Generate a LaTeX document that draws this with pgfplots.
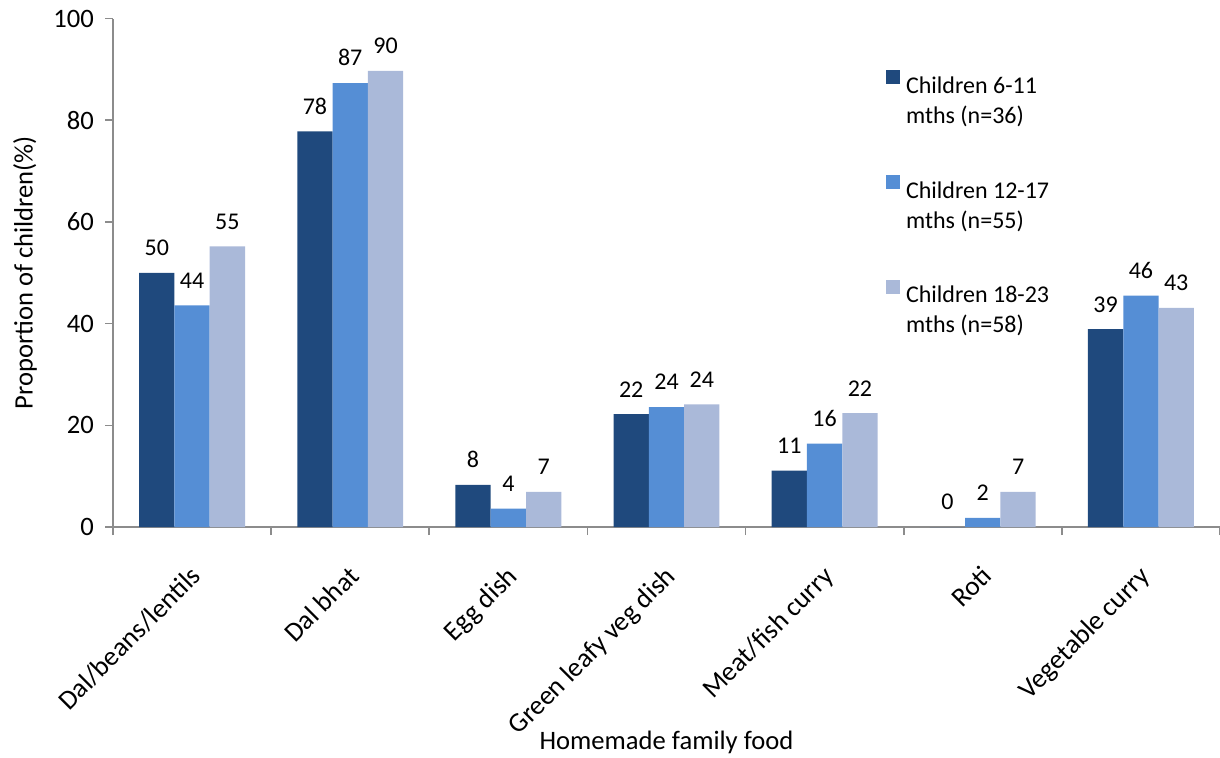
\documentclass[border=0pt]{standalone}
\usepackage{pgfplots}
\pgfplotsset{compat=1.18}
\usepackage{fontspec}
\setmainfont{Carlito}

\definecolor{darkbar}{HTML}{1F497D}
\definecolor{midbar}{HTML}{558ED5}
\definecolor{lightbar}{HTML}{AAB9D9}
\definecolor{axisgray}{HTML}{8C8C8C}

% Share of children eating each homemade family food, by age group
\pgfplotstableread{
x  a     b     c
0  50.0  43.6  55.2
1  77.8  87.3  89.7
2  8.3   3.6   6.9
3  22.2  23.6  24.1
4  11.1  16.4  22.4
5  0.0   1.8   6.9
6  38.9  45.5  43.1
}\foodtable

\begin{document}
\begin{tikzpicture}
\useasboundingbox (0,0) rectangle (610pt,378.5pt);
\begin{axis}[
  at={(56.5pt,115pt)}, anchor=south west,
  scale only axis, width=553.5pt, height=254.2pt,
  xmin=-0.5, xmax=6.5, ymin=0, ymax=100,
  ybar=0pt, bar width=17.65pt,
  axis x line=bottom, axis y line=left,
  axis line style={draw=axisgray, line width=0.8pt, -},
  tick align=outside, major tick length=4pt,
  tick style={draw=axisgray, line width=0.8pt},
  ytick={0,20,...,100},
  yticklabel style={font=\fontsize{13.3}{16}\selectfont, xshift=-2pt},
  xtick={-0.5,0.5,...,6.5},
  xticklabels={,,,,,,,},
  extra x ticks={0,1,...,6},
  extra x tick labels={Dal/beans/lentils,Dal bhat,Egg dish,Green leafy veg dish,Meat/fish curry,Roti,Vegetable curry},
  extra x tick style={major tick length=0pt,
    xticklabel style={font=\fontsize{13.6}{16}\selectfont, inner sep=0pt,
      xshift=-1.5pt, yshift=-18.5pt, rotate=45, anchor=north east}},
  /pgf/number format/assume math mode=true,
  /pgf/number format/fixed, /pgf/number format/precision=0,
  nodes near coords,
  every node near coord/.append style={font=\fontsize{12}{14}\selectfont, black, yshift=5pt},
  ylabel={Proportion of children(\%)},
  ylabel style={at={(axis description cs:-0.0795,0.5)}, anchor=center,
    font=\fontsize{13.3}{16}\selectfont},
  xlabel={Homemade family food},
  xlabel style={at={(axis description cs:0.5,-0.423)}, anchor=center,
    font=\fontsize{13.3}{16}\selectfont},
  legend style={at={(rel axis cs:0.698,0.907)}, anchor=north west, draw=none, fill=none,
    inner sep=0pt, row sep=34.4pt, font=\fontsize{12}{15}\selectfont,
    nodes={inner sep=3pt}},
  legend cell align=left,
  legend image code/.code={\fill[#1] (0pt,0pt) rectangle (7pt,7pt);},
]
\addplot[fill=darkbar, draw=none] table[x=x, y=a] {\foodtable};
\addlegendentry{\begin{tabular}[t]{@{}l@{}}Children 6-11\\mths (n=36)\end{tabular}}
\addplot[fill=midbar, draw=none] table[x=x, y=b] {\foodtable};
\addlegendentry{\begin{tabular}[t]{@{}l@{}}Children 12-17\\mths (n=55)\end{tabular}}
\addplot[fill=lightbar, draw=none] table[x=x, y=c] {\foodtable};
\addlegendentry{\begin{tabular}[t]{@{}l@{}}Children 18-23\\mths (n=58)\end{tabular}}
\end{axis}
\end{tikzpicture}
\end{document}
